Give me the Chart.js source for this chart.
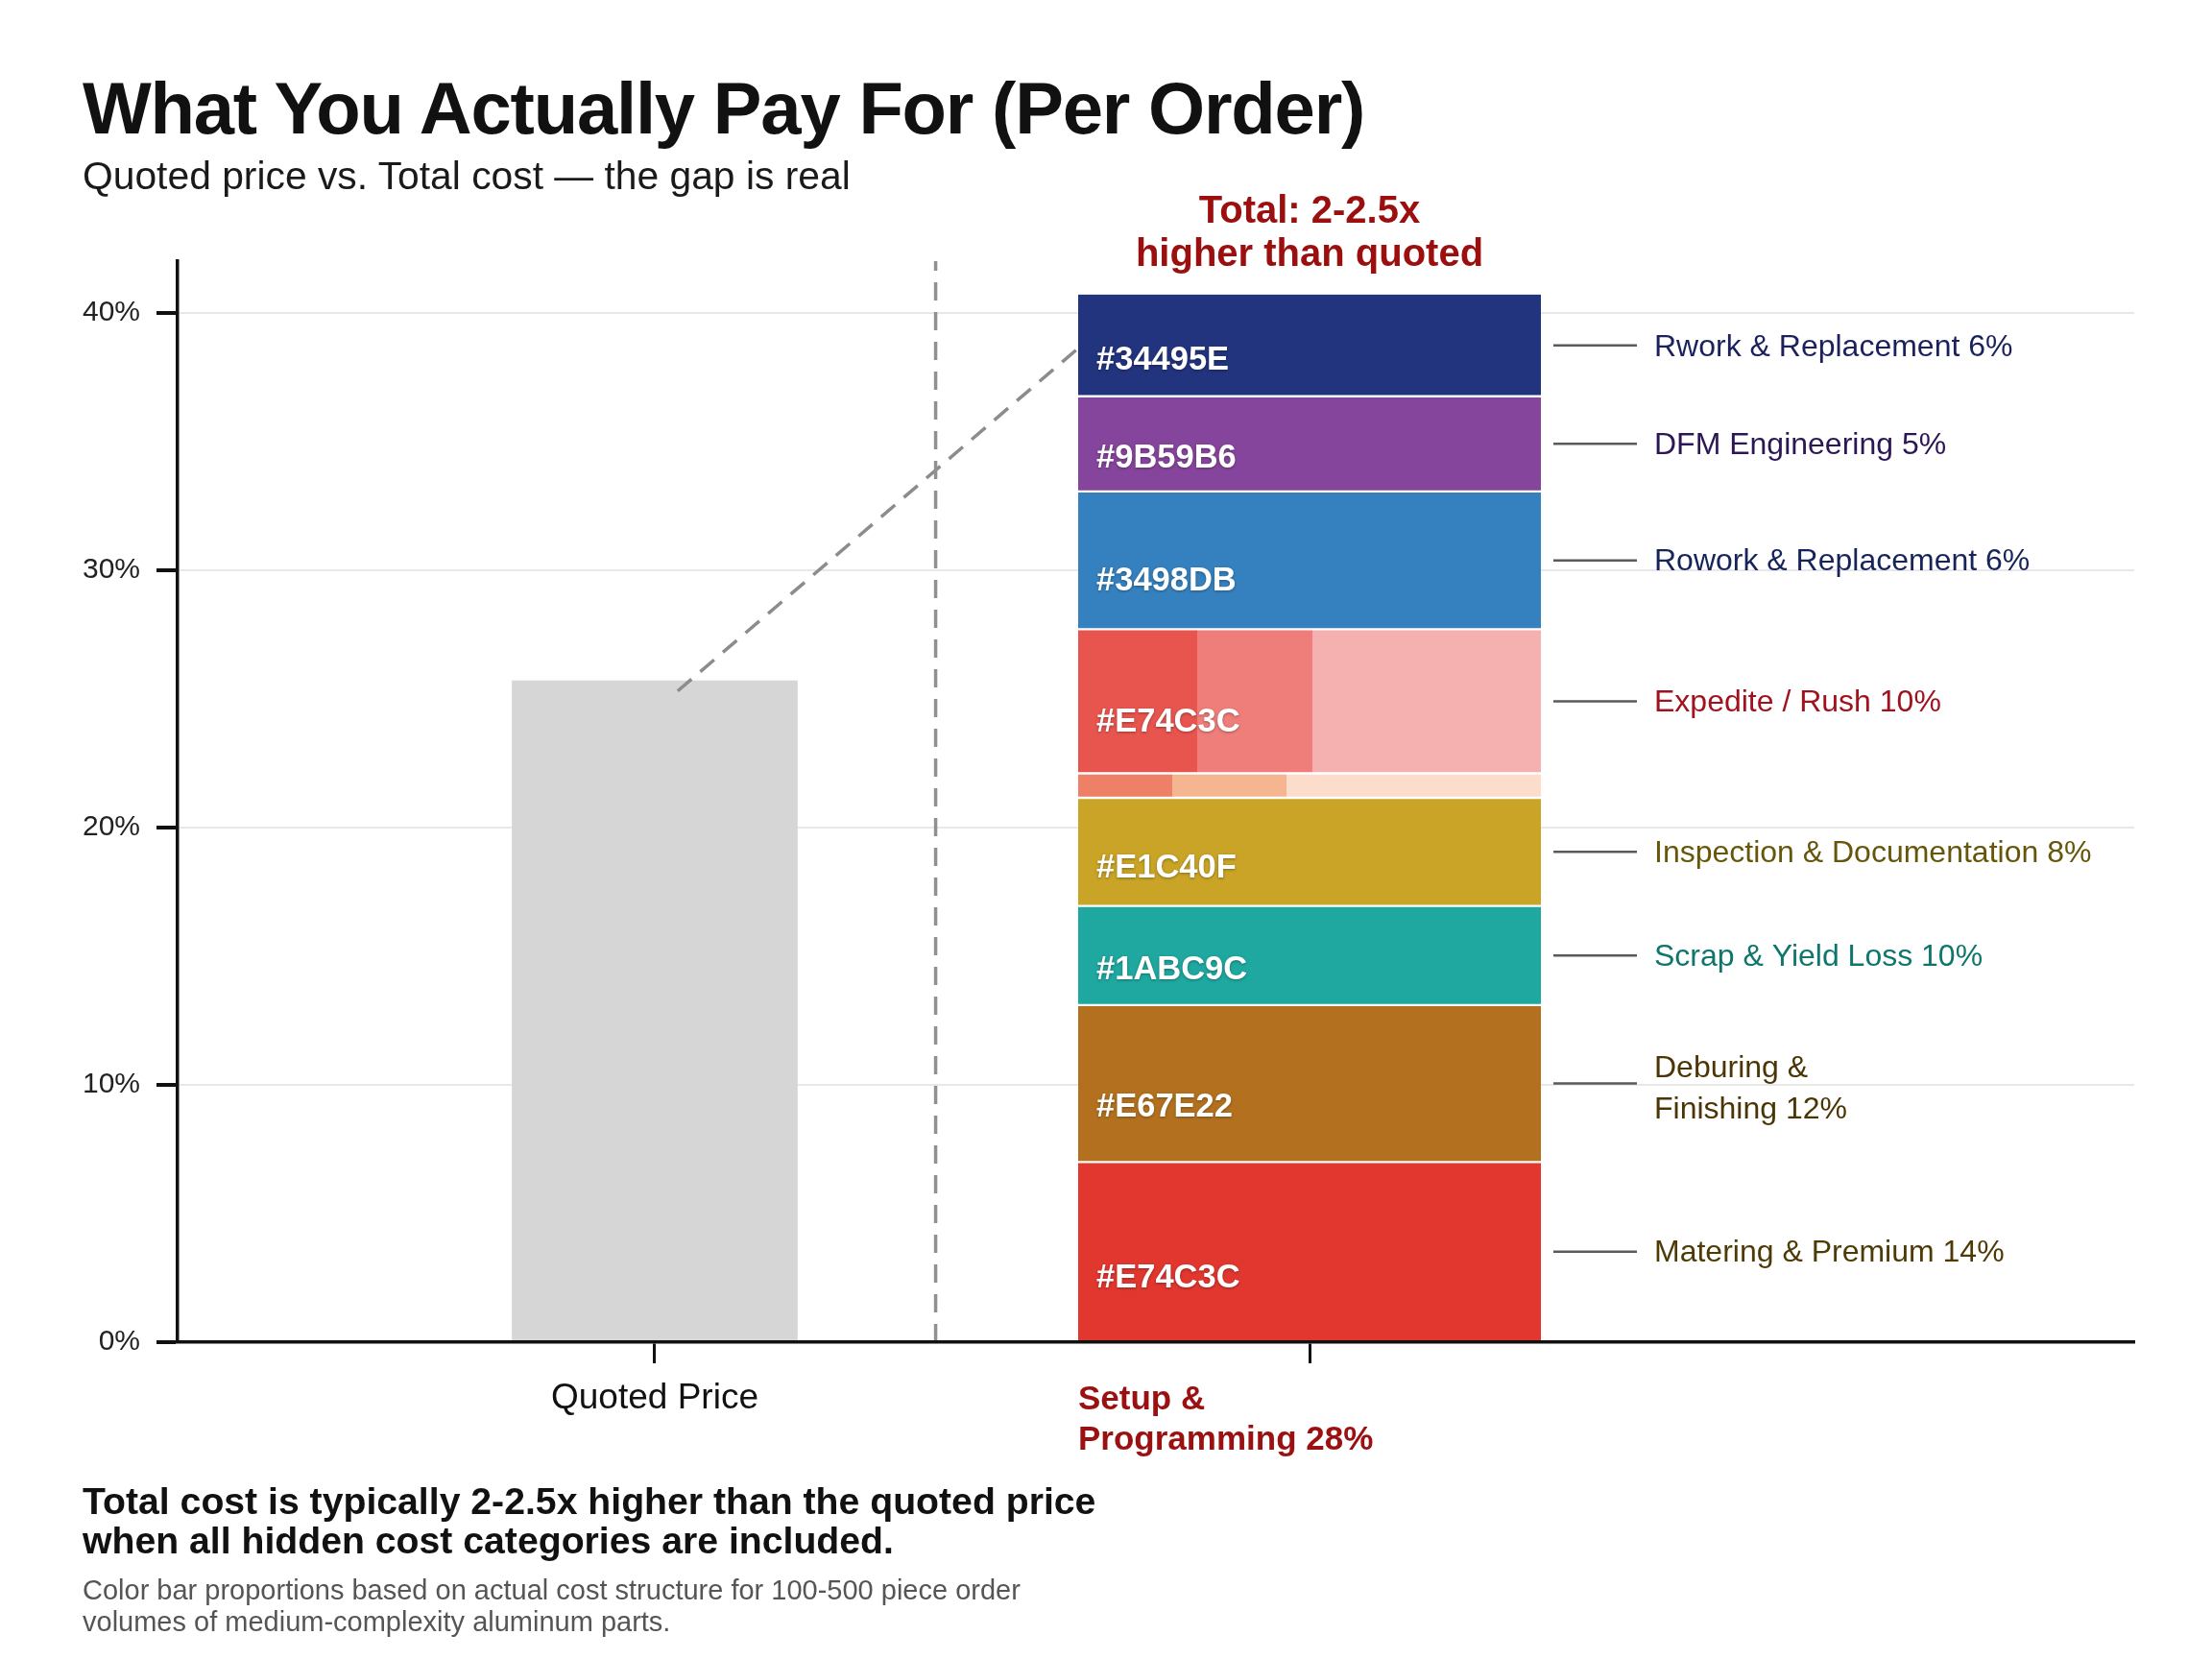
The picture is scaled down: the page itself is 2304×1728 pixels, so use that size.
<!DOCTYPE html>
<html>
<head>
<meta charset="utf-8">
<script src="https://cdn.jsdelivr.net/npm/chart.js@4.4.1/dist/chart.umd.min.js"></script>
<style>
  html, body { margin: 0; padding: 0; background: #fff; }
  #wrap { position: relative; width: 2304px; height: 1728px; overflow: hidden; font-family: "Liberation Sans", Arial, Helvetica, sans-serif; }
  #chart { position: absolute; left: 0; top: 0; }
  .txt { position: absolute; left: 86px; white-space: nowrap; }
  #title { top: 75px; font-size: 76px; line-height: 76px; font-weight: 700; letter-spacing: -1.2px; color: #111; }
  #subtitle { top: 163px; font-size: 40.8px; line-height: 40px; color: #1a1a1a; }
  #takeaway { top: 1543px; font-size: 39.2px; line-height: 41px; font-weight: 700; color: #111; }
  #note { top: 1640px; font-size: 29px; line-height: 33px; color: #555; }
</style>
</head>
<body>
<div id="wrap">
  <canvas id="chart" width="2304" height="1728"></canvas>
  <div class="txt" id="title">What You Actually Pay For (Per Order)</div>
  <div class="txt" id="subtitle">Quoted price vs. Total cost — the gap is real</div>
  <div class="txt" id="takeaway">Total cost is typically 2-2.5x higher than the quoted price<br>when all hidden cost categories are included.</div>
  <div class="txt" id="note">Color bar proportions based on actual cost structure for 100-500 piece order<br>volumes of medium-complexity aluminum parts.</div>
</div>
<script>
const FONT = '"Liberation Sans", Arial, Helvetica, sans-serif';

// ---- data ----
const categories = ['Quoted Price', 'Setup & Programming 28%'];
const categoryX = [0, 1];
const quotedValue = 25.7;

// cost segments of the total bar, bottom to top
const segValues = [7.0, 6.1, 3.85, 4.2, 0.95, 5.6, 5.35, 3.7, 3.95];
const segHex = ['#E74C3C', '#E67E22', '#1ABC9C', '#E1C40F', null, '#E74C3C', '#3498DB', '#9B59B6', '#34495E'];
const segLabels = [
  ['Matering & Premium 14%'],
  ['Deburing &', 'Finishing 12%'],
  ['Scrap & Yield Loss 10%'],
  ['Inspection & Documentation 8%'],
  null,
  ['Expedite / Rush 10%'],
  ['Rowork & Replacement 6%'],
  ['DFM Engineering 5%'],
  ['Rwork & Replacement 6%']
];
const totalNote = ['Total: 2-2.5x', 'higher than quoted'];
const setupNote = ['Setup &', 'Programming 28%'];

const yTicks = [0, 10, 20, 30, 40];
const yMax = 42;
const xMin = -0.7287, xMax = 2.2595;
const dividerX = 0.429;
const leaderPts = [{ x: 0.035, y: 25.3 }, { x: 0.646, y: 38.6 }];

// ---- styles ----
const segColors = ['#e1372f', '#b3711f', '#1fa8a0', '#c9a426', '#fcdccb', '#f4b1af', '#3581bf', '#86459c', '#23347f'];
const segTextColors = ['#4d3a05', '#4a3505', '#0f766d', '#66560a', null, '#a0121d', '#17245a', '#2c1656', '#1b215d'];
// tint bands inside the two light segments: [end fraction of bar width, colour]
const segTints = {
  4: [[0.203, '#ee8068'], [0.45, '#f4b590'], [1, '#fcdccb']],
  5: [[0.258, '#e8554f'], [0.507, '#ef7e7a'], [1, '#f4b1af']]
};
const quotedThickness = 297;
const stackThickness = 482;

// cumulative ranges for floating segments
const segRanges = [];
let acc = 0;
segValues.forEach(v => { segRanges.push([acc, acc + v]); acc += v; });
const lastSeg = segValues.length - 1;

function segFill(ctx) {
  const i = ctx.dataIndex;
  const tints = segTints[i];
  const chart = ctx.chart;
  if (!tints || !chart.chartArea || !chart.scales.x) return segColors[i];
  const left = chart.scales.x.getPixelForValue(categoryX[1]) - stackThickness / 2;
  if (!isFinite(left)) return segColors[i];
  const g = chart.ctx.createLinearGradient(left, 0, left + stackThickness, 0);
  let prev = 0;
  tints.forEach(([end, c]) => { g.addColorStop(prev, c); g.addColorStop(end, c); prev = end; });
  return g;
}

const annotations = {
  id: 'annotations',
  afterDatasetsDraw(chart) {
    const c = chart.ctx;
    const meta = chart.getDatasetMeta(3);
    let stackTop = Infinity, stackLeft = 0, stackX = 0;
    c.save();
    meta.data.forEach((bar, i) => {
      const { x, y, base, width } = bar.getProps(['x', 'y', 'base', 'width'], true);
      const top = Math.min(y, base), bottom = Math.max(y, base);
      const left = x - width / 2, right = x + width / 2;
      stackTop = Math.min(stackTop, top); stackLeft = left; stackX = x;
      const mid = (top + bottom) / 2;

      if (segHex[i]) {
        c.save();
        c.font = `bold 34.5px ${FONT}`;
        c.fillStyle = '#fff';
        c.textAlign = 'left';
        c.textBaseline = 'middle';
        c.shadowColor = 'rgba(0,0,0,0.35)';
        c.shadowBlur = 3;
        c.shadowOffsetY = 1;
        c.fillText(segHex[i], left + 19, top + 0.65 * (bottom - top));
        c.restore();
      }

      if (segLabels[i]) {
        c.strokeStyle = '#5a5a5a';
        c.lineWidth = 2.5;
        c.beginPath();
        c.moveTo(right + 13, mid);
        c.lineTo(right + 100, mid);
        c.stroke();

        c.font = `32px ${FONT}`;
        c.fillStyle = segTextColors[i];
        c.textAlign = 'left';
        c.textBaseline = 'middle';
        const lines = segLabels[i];
        if (lines.length === 1) {
          c.fillText(lines[0], right + 118, mid + 2);
        } else {
          c.fillText(lines[0], right + 118, mid - 15);
          c.fillText(lines[1], right + 118, mid + 28);
        }
      }
    });

    // headline over the total bar
    c.font = `bold 40px ${FONT}`;
    c.fillStyle = '#9b0f0f';
    c.textAlign = 'center';
    c.textBaseline = 'alphabetic';
    c.fillText(totalNote[0], stackX, stackTop - 75);
    c.fillText(totalNote[1], stackX, stackTop - 30);

    // category label for the total bar, left-aligned to the bar
    const axisY = chart.scales.x.top;
    c.font = `bold 35px ${FONT}`;
    c.fillStyle = '#9b1111';
    c.textAlign = 'left';
    c.fillText(setupNote[0], stackLeft, axisY + 70);
    c.fillText(setupNote[1], stackLeft, axisY + 112);
    c.restore();
  }
};

Chart.defaults.font.family = FONT;

new Chart(document.getElementById('chart'), {
  type: 'bar',
  data: {
    datasets: [
      {
        type: 'line', label: 'divider',
        data: [{ x: dividerX, y: 0 }, { x: dividerX, y: yMax }],
        borderColor: '#909090', borderWidth: 3.5, borderDash: [19, 12],
        pointRadius: 0, order: 0
      },
      {
        type: 'line', label: 'gap',
        data: leaderPts,
        borderColor: '#8c8c8c', borderWidth: 3.5, borderDash: [19, 12],
        pointRadius: 0, order: 0
      },
      {
        type: 'bar', label: categories[0],
        data: [{ x: categoryX[0], y: quotedValue }],
        backgroundColor: '#d6d6d6',
        barThickness: quotedThickness, grouped: false, order: 1
      },
      {
        type: 'bar', label: 'Total cost',
        data: segRanges.map(r => ({ x: categoryX[1], y: r })),
        backgroundColor: segFill,
        borderColor: '#ffffff',
        borderWidth: ctx => ({
          top: ctx.dataIndex === lastSeg ? 0 : 1.5,
          bottom: ctx.dataIndex === 0 ? 0 : 1.5,
          left: 0, right: 0
        }),
        borderSkipped: false,
        barThickness: stackThickness, grouped: false, order: 1
      }
    ]
  },
  options: {
    responsive: false,
    devicePixelRatio: 1,
    animation: false,
    events: [],
    layout: { padding: { top: 272, right: 81, bottom: 0, left: 0 } },
    plugins: { legend: { display: false }, tooltip: { enabled: false }, title: { display: false } },
    scales: {
      x: {
        type: 'linear', min: xMin, max: xMax, offset: false,
        afterFit: s => { s.height = 330; },
        afterBuildTicks: s => { s.ticks = categoryX.map(v => ({ value: v })); },
        grid: { display: true, drawOnChartArea: false, drawTicks: true, offset: false, tickLength: 22, tickWidth: 3, tickColor: '#111', color: '#111' },
        border: { display: true, color: '#111', width: 3.5, z: 1 },
        ticks: {
          padding: 15,
          color: '#111',
          font: { size: 37 },
          maxRotation: 0,
          autoSkip: false,
          callback: (v, i) => (i === 0 ? categories[0] : '')
        }
      },
      y: {
        min: 0, max: yMax,
        afterFit: s => { s.width = 185; },
        afterBuildTicks: s => { s.ticks = yTicks.map(v => ({ value: v })); },
        grid: { color: '#e8e8e8', lineWidth: 2, tickLength: 22, tickWidth: 4, tickColor: '#111' },
        border: { display: true, color: '#111', width: 3.5, z: 1 },
        ticks: {
          padding: 17,
          color: '#222',
          font: { size: 30 },
          callback: v => v + '%'
        }
      }
    }
  },
  plugins: [annotations]
});
</script>
</body>
</html>
